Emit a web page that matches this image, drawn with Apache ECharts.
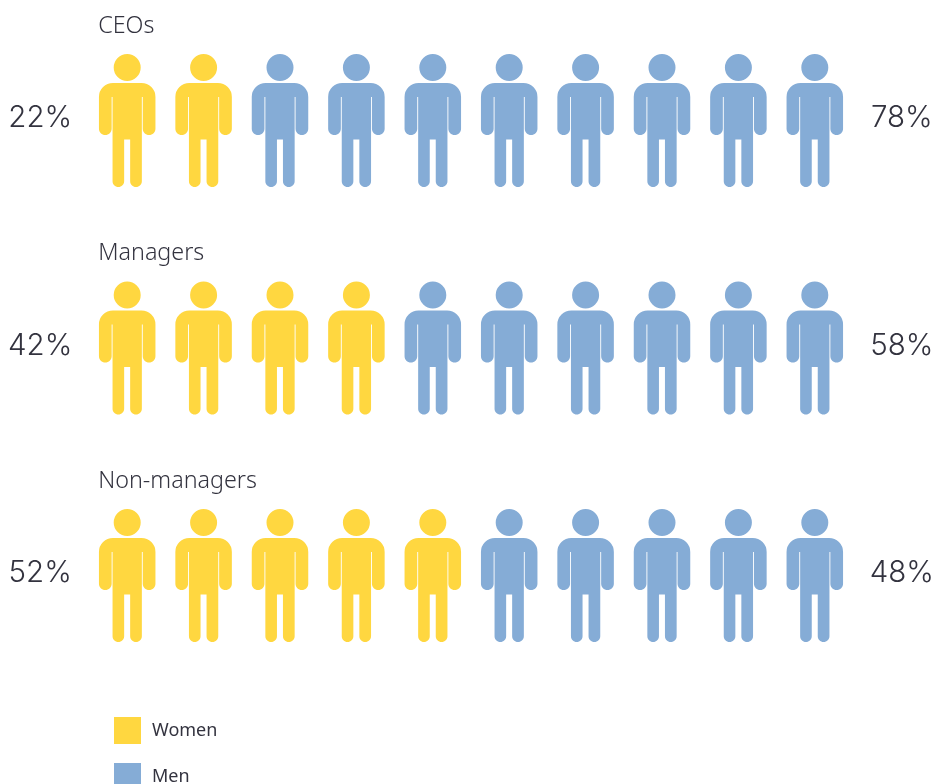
<!DOCTYPE html>
<html><head><meta charset="utf-8">
<style>html,body{margin:0;padding:0;background:#fff;overflow:hidden}#c{width:935px;height:784px}</style>
<script src="https://cdn.jsdelivr.net/npm/echarts@6/dist/echarts.min.js"></script>
</head><body><div id="c"></div>
<script>
const categories = ['CEOs', 'Managers', 'Non-managers'];
const womenPct = [22, 42, 52];
const menPct = [78, 58, 48];
const womenIcons = [2, 4, 5];
const iconCount = 10;
const seriesNames = ['Women', 'Men'];
const colors = ['#FFD740', '#85ACD6'];
const textColor = '#33333F';
const font = '"Noto Sans", sans-serif';
const numFont = 'Inter, "Noto Sans", sans-serif';

const person = 'path://M28.25 0A13.5 13.5 0 1 1 28.25 27A13.5 13.5 0 1 1 28.25 0Z' +
  'M14 29H42.5A14 14 0 0 1 56.5 43V74.7C56.5 78.2 53.66 81.05 50.15 81.05C46.64 81.05 43.8 78.2 43.8 74.7V43H42.9V127.2' +
  'C42.9 130.4 40.3 133 37.05 133C33.8 133 31.2 130.4 31.2 127.2V85.5H25.2V127.2' +
  'C25.2 130.4 22.6 133 19.4 133C16.2 133 13.6 130.4 13.6 127.2V43H12.7V74.7' +
  'C12.7 78.2 9.86 81.05 6.35 81.05C2.84 81.05 0 78.2 0 74.7V43A14 14 0 0 1 14 29Z';

const womenPts = [], menPts = [];
categories.forEach((c, r) => {
  for (let i = 0; i < iconCount; i++) (i < womenIcons[r] ? womenPts : menPts).push([i, r]);
});
const iconSeries = (name, data, color) => ({
  type: 'scatter', name, data, symbol: person, symbolSize: [56.5, 133], silent: true,
  itemStyle: { color, opacity: 1 }, animation: false
});
const textSeries = (data, label) => ({
  type: 'scatter', data, symbolSize: 0, silent: true, animation: false,
  itemStyle: { opacity: 1 },
  label: Object.assign({ show: true, color: textColor, opacity: 1 }, label)
});
const legendText = { fontFamily: font, fontSize: 18, color: textColor, padding: [9, 0, 0, 6] };
const legendBase = { orient: 'vertical', left: 109, itemWidth: 27, itemHeight: 27, icon: 'rect', selectedMode: false, textStyle: legendText };
const option = {
  backgroundColor: '#fff',
  animation: false,
  grid: { left: 127.2, width: 687.6, top: 120.5, height: 455 },
  xAxis: { type: 'value', min: 0, max: 9, show: false },
  yAxis: { type: 'value', min: 0, max: 2, inverse: true, show: false },
  legend: [
    Object.assign({ top: 712, data: [seriesNames[0]] }, legendBase),
    Object.assign({ top: 758, data: [seriesNames[1]] }, legendBase)
  ],
  series: [
    iconSeries(seriesNames[0], womenPts, colors[0]),
    iconSeries(seriesNames[1], menPts, colors[1]),
    textSeries(categories.map((c, r) => ({ value: [0, r], name: c })), {
      position: 'inside', align: 'left', verticalAlign: 'middle', offset: [-29, -94.5],
      fontFamily: font, fontSize: 23.3, fontWeight: 300, formatter: p => p.name
    }),
    textSeries(womenPct.map((v, r) => ({ value: [0, r] })), {
      position: 'inside', align: 'center', verticalAlign: 'middle', offset: [-87, -2],
      fontFamily: numFont, fontSize: 29.5, fontWeight: 300, formatter: p => womenPct[p.dataIndex] + '%'
    }),
    textSeries(menPct.map((v, r) => ({ value: [9, r] })), {
      position: 'inside', align: 'center', verticalAlign: 'middle', offset: [87, -2],
      fontFamily: numFont, fontSize: 29.5, fontWeight: 300, formatter: p => menPct[p.dataIndex] + '%'
    })
  ]
};
echarts.init(document.getElementById('c'), null, { renderer: 'canvas' }).setOption(option);
</script></body></html>
